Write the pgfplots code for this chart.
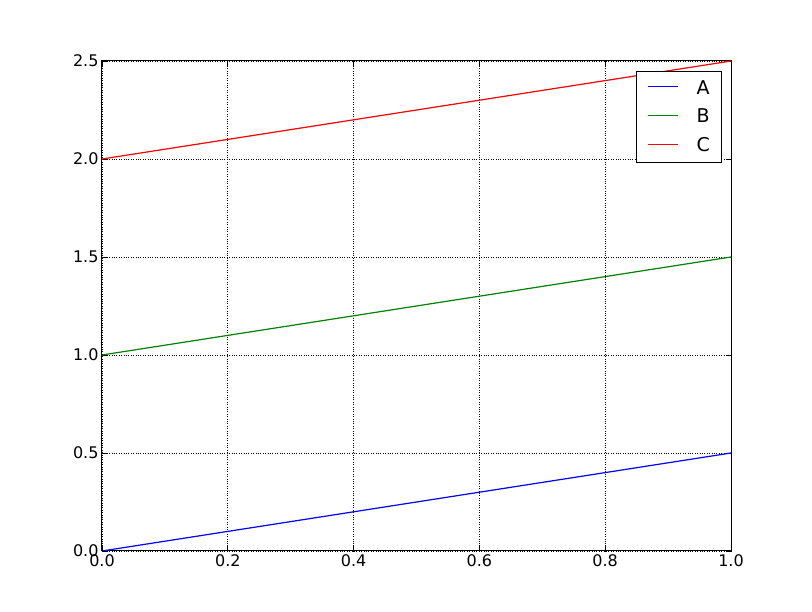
\documentclass[border=0pt]{standalone}
\usepackage{fontspec}
\setmainfont{DejaVu Sans}
\usepackage{pgfplots}
\pgfplotsset{compat=1.18}
\definecolor{mplblue}{RGB}{0,0,255}
\definecolor{mplgreen}{RGB}{0,128,0}
\definecolor{mplred}{RGB}{255,0,0}
\newcommand{\legline}[1]{\textcolor{#1}{\rule[0.36em]{30pt}{1.2pt}}\hspace{19pt}}
\begin{document}
\begin{tikzpicture}
\useasboundingbox (-102pt,-61pt) rectangle (710pt,551pt);
\begin{axis}[
    scale only axis,
    width=629pt, height=490pt,
    xmin=0, xmax=1, ymin=0, ymax=2.5,
    xtick={0,0.2,...,1}, ytick={0,0.5,...,2.5},
    tick align=inside,
    xtick pos=both, ytick pos=both,
    major tick length=5.5pt,
    axis line style={line width=1pt},
    every tick/.style={black, line width=0.8pt},
    grid=major,
    major grid style={black, dotted, line width=0.7pt},
    tick label style={font=\fontsize{16}{19}\selectfont},
    /pgf/number format/assume math mode=true,
    xticklabel={\pgfmathprintnumber[fixed,fixed zerofill,precision=1]{\tick}},
    yticklabel={\pgfmathprintnumber[fixed,fixed zerofill,precision=1]{\tick}},
    legend style={at={(rel axis cs:1,1)}, xshift=-10pt, yshift=-10pt,
        anchor=north east,
        font=\fontsize{19}{22}\selectfont,
        row sep=9.5pt, inner xsep=9pt, inner ysep=7pt},
    legend cell align=left,
    legend image code/.code={},
]
\addplot[mplblue, no markers, line width=1.2pt] coordinates {(0,0) (1,0.5)};
\addlegendentry{\legline{mplblue}A}
\addplot[mplgreen, no markers, line width=1.2pt] coordinates {(0,1) (1,1.5)};
\addlegendentry{\legline{mplgreen}B}
\addplot[mplred, no markers, line width=1.2pt] coordinates {(0,2) (1,2.5)};
\addlegendentry{\legline{mplred}C}
\end{axis}
\end{tikzpicture}
\end{document}
